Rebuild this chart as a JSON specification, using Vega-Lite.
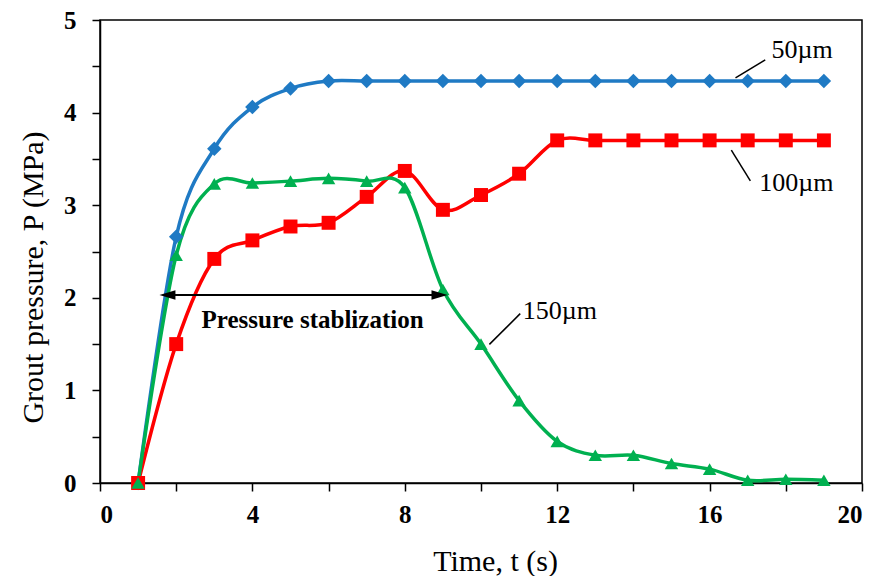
{
  "$schema": "https://vega.github.io/schema/vega-lite/v6.json",
  "width": 762,
  "height": 463,
  "autosize": {"type": "none"},
  "padding": {"left": 100, "top": 20, "right": 15, "bottom": 93},
  "background": "white",
  "config": {
    "view": {"stroke": "black", "strokeWidth": 1.5},
    "font": "Liberation Serif",
    "axis": {
      "grid": false,
      "domainColor": "black",
      "domainWidth": 1.5,
      "tickColor": "black",
      "tickWidth": 1.5,
      "tickSize": 8,
      "labelFont": "Liberation Serif",
      "labelFontWeight": "bold",
      "labelFontSize": 25,
      "labelColor": "black",
      "titleFont": "Liberation Serif",
      "titleFontWeight": "normal",
      "titleFontSize": 30,
      "titleColor": "black"
    }
  },
  "datasets": {
    "series": [
      {"t": 1, "P": 0, "s": "50µm"}, {"t": 2, "P": 2.66, "s": "50µm"}, {"t": 3, "P": 3.61, "s": "50µm"}, {"t": 4, "P": 4.06, "s": "50µm"}, {"t": 5, "P": 4.26, "s": "50µm"}, {"t": 6, "P": 4.34, "s": "50µm"}, {"t": 7, "P": 4.34, "s": "50µm"}, {"t": 8, "P": 4.34, "s": "50µm"}, {"t": 9, "P": 4.34, "s": "50µm"}, {"t": 10, "P": 4.34, "s": "50µm"}, {"t": 11, "P": 4.34, "s": "50µm"}, {"t": 12, "P": 4.34, "s": "50µm"}, {"t": 13, "P": 4.34, "s": "50µm"}, {"t": 14, "P": 4.34, "s": "50µm"}, {"t": 15, "P": 4.34, "s": "50µm"}, {"t": 16, "P": 4.34, "s": "50µm"}, {"t": 17, "P": 4.34, "s": "50µm"}, {"t": 18, "P": 4.34, "s": "50µm"}, {"t": 19, "P": 4.34, "s": "50µm"},
      {"t": 1, "P": 0, "s": "100µm"}, {"t": 2, "P": 1.5, "s": "100µm"}, {"t": 3, "P": 2.42, "s": "100µm"}, {"t": 4, "P": 2.62, "s": "100µm"}, {"t": 5, "P": 2.77, "s": "100µm"}, {"t": 6, "P": 2.81, "s": "100µm"}, {"t": 7, "P": 3.09, "s": "100µm"}, {"t": 8, "P": 3.37, "s": "100µm"}, {"t": 9, "P": 2.95, "s": "100µm"}, {"t": 10, "P": 3.11, "s": "100µm"}, {"t": 11, "P": 3.34, "s": "100µm"}, {"t": 12, "P": 3.7, "s": "100µm"}, {"t": 13, "P": 3.7, "s": "100µm"}, {"t": 14, "P": 3.7, "s": "100µm"}, {"t": 15, "P": 3.7, "s": "100µm"}, {"t": 16, "P": 3.7, "s": "100µm"}, {"t": 17, "P": 3.7, "s": "100µm"}, {"t": 18, "P": 3.7, "s": "100µm"}, {"t": 19, "P": 3.7, "s": "100µm"},
      {"t": 1, "P": 0, "s": "150µm"}, {"t": 2, "P": 2.46, "s": "150µm"}, {"t": 3, "P": 3.23, "s": "150µm"}, {"t": 4, "P": 3.24, "s": "150µm"}, {"t": 5, "P": 3.26, "s": "150µm"}, {"t": 6, "P": 3.29, "s": "150µm"}, {"t": 7, "P": 3.26, "s": "150µm"}, {"t": 8, "P": 3.19, "s": "150µm"}, {"t": 9, "P": 2.09, "s": "150µm"}, {"t": 10, "P": 1.5, "s": "150µm"}, {"t": 11, "P": 0.89, "s": "150µm"}, {"t": 12, "P": 0.45, "s": "150µm"}, {"t": 13, "P": 0.3, "s": "150µm"}, {"t": 14, "P": 0.3, "s": "150µm"}, {"t": 15, "P": 0.21, "s": "150µm"}, {"t": 16, "P": 0.15, "s": "150µm"}, {"t": 17, "P": 0.03, "s": "150µm"}, {"t": 18, "P": 0.04, "s": "150µm"}, {"t": 19, "P": 0.03, "s": "150µm"}
    ],
    "labels": [
      {"t": 18.43, "P": 4.68, "text": "50µm"},
      {"t": 18.28, "P": 3.24, "text": "100µm"},
      {"t": 12.07, "P": 1.86, "text": "150µm"}
    ],
    "leaders": [
      {"t": 16.68, "P": 4.376, "t2": 17.46, "P2": 4.57},
      {"t": 16.57, "P": 3.595, "t2": 17.07, "P2": 3.263},
      {"t": 10.22, "P": 1.497, "t2": 11.03, "P2": 1.829}
    ],
    "arrowline": [{"t": 1.77, "P": 2.03, "t2": 8.91, "P2": 2.03}],
    "arrowL": [{"t": 1.77, "P": 2.03}],
    "arrowR": [{"t": 8.91, "P": 2.03}],
    "note": [{"t": 5.58, "P": 1.76, "text": "Pressure stablization"}]
  },
  "layer": [
    {
      "data": {"name": "series"},
      "mark": {"type": "line", "interpolate": "cardinal", "strokeWidth": 3.5},
      "encoding": {
        "x": {"field": "t", "type": "quantitative", "scale": {"domain": [0, 20], "nice": false},
          "axis": {"values": [0, 2, 4, 6, 8, 10, 12, 14, 16, 18, 20], "labelExpr": "datum.value % 4 == 0 ? format(datum.value, 'd') : ''", "labelFont": "Liberation Serif", "labelFontWeight": "bold", "labelPadding": 11, "title": "Time, t (s)", "titleX": 395, "titleY": 87, "titleBaseline": "alphabetic", "titleAnchor": "middle", "titleAlign": "center"}},
        "y": {"field": "P", "type": "quantitative", "scale": {"domain": [0, 5], "nice": false},
          "axis": {"values": [0, 0.5, 1, 1.5, 2, 2.5, 3, 3.5, 4, 4.5, 5], "labelExpr": "datum.value % 1 == 0 ? format(datum.value, 'd') : ''", "labelFont": "Liberation Serif", "labelFontWeight": "bold", "labelPadding": 16, "title": "Grout pressure, P (MPa)", "titleX": -58, "titleY": 257, "titleAngle": -90, "titleBaseline": "alphabetic", "titleAlign": "center", "titleAnchor": "middle"}},
        "color": {"field": "s", "type": "nominal", "scale": {"domain": ["50µm", "100µm", "150µm"], "range": ["#1f7ac4", "#ff0000", "#00b050"]}, "legend": null},
        "order": {"field": "t"}
      }
    },
    {
      "data": {"name": "series"},
      "mark": {"type": "point", "filled": true, "opacity": 1},
      "encoding": {
        "x": {"field": "t", "type": "quantitative"},
        "y": {"field": "P", "type": "quantitative"},
        "color": {"field": "s", "type": "nominal", "legend": null},
        "shape": {"field": "s", "type": "nominal", "scale": {"domain": ["50µm", "100µm", "150µm"], "range": ["diamond", "square", "triangle-up"]}, "legend": null},
        "size": {"field": "s", "type": "nominal", "scale": {"domain": ["50µm", "100µm", "150µm"], "range": [210, 180, 220]}, "legend": null}
      }
    },
    {
      "data": {"name": "leaders"},
      "mark": {"type": "rule", "color": "black", "strokeWidth": 1.5},
      "encoding": {
        "x": {"field": "t", "type": "quantitative"},
        "y": {"field": "P", "type": "quantitative"},
        "x2": {"field": "t2"},
        "y2": {"field": "P2"}
      }
    },
    {
      "data": {"name": "arrowline"},
      "mark": {"type": "rule", "color": "black", "strokeWidth": 2},
      "encoding": {
        "x": {"field": "t", "type": "quantitative"},
        "y": {"field": "P", "type": "quantitative"},
        "x2": {"field": "t2"},
        "y2": {"field": "P2"}
      }
    },
    {
      "data": {"name": "arrowL"},
      "mark": {"type": "point", "filled": true, "opacity": 1, "color": "black", "size": 256, "shape": "M-1,0L1,-0.6L1,0.6Z"},
      "encoding": {
        "x": {"field": "t", "type": "quantitative"},
        "y": {"field": "P", "type": "quantitative"}
      }
    },
    {
      "data": {"name": "arrowR"},
      "mark": {"type": "point", "filled": true, "opacity": 1, "color": "black", "size": 256, "shape": "M1,0L-1,-0.6L-1,0.6Z"},
      "encoding": {
        "x": {"field": "t", "type": "quantitative"},
        "y": {"field": "P", "type": "quantitative"}
      }
    },
    {
      "data": {"name": "labels"},
      "mark": {"type": "text", "font": "Liberation Serif", "fontSize": 26, "color": "black", "align": "center", "baseline": "middle"},
      "encoding": {
        "x": {"field": "t", "type": "quantitative"},
        "y": {"field": "P", "type": "quantitative"},
        "text": {"field": "text"}
      }
    },
    {
      "data": {"name": "note"},
      "mark": {"type": "text", "font": "Liberation Serif", "fontSize": 25, "fontWeight": "bold", "color": "black", "align": "center", "baseline": "middle"},
      "encoding": {
        "x": {"field": "t", "type": "quantitative"},
        "y": {"field": "P", "type": "quantitative"},
        "text": {"field": "text"}
      }
    }
  ]
}
